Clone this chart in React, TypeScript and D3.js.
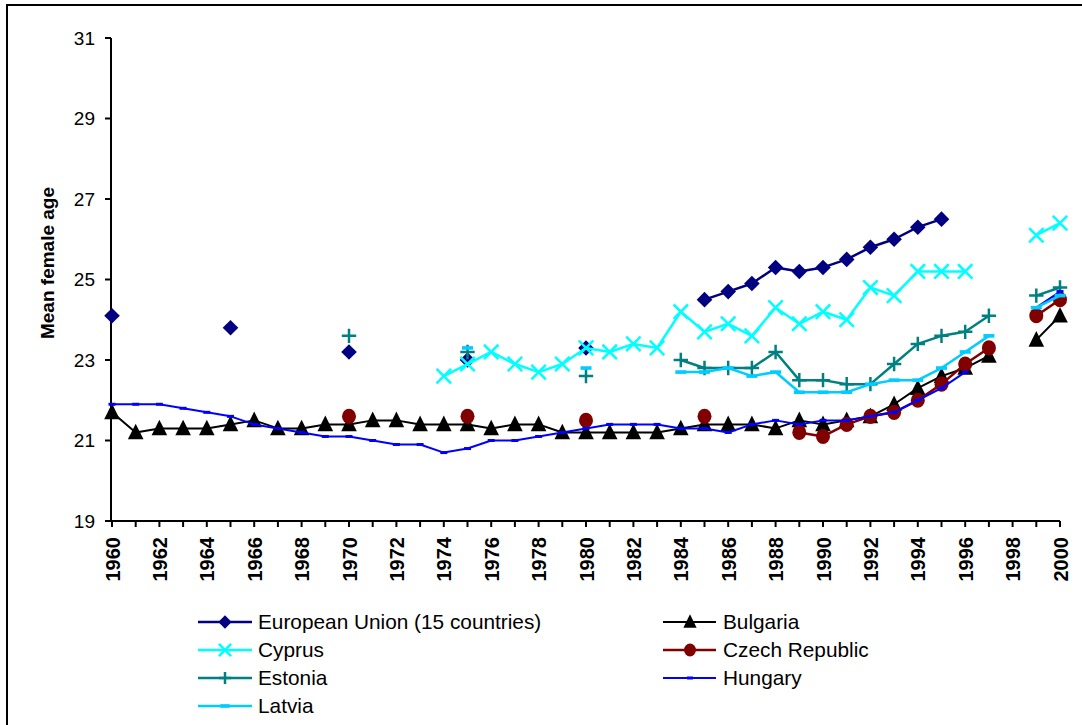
import React from "react";
import * as d3 from "d3";

const years: number[] = [
  1960, 1961, 1962, 1963, 1964, 1965, 1966, 1967, 1968, 1969,
  1970, 1971, 1972, 1973, 1974, 1975, 1976, 1977, 1978, 1979,
  1980, 1981, 1982, 1983, 1984, 1985, 1986, 1987, 1988, 1989,
  1990, 1991, 1992, 1993, 1994, 1995, 1996, 1997, 1998, 1999,
  2000,
];

const euro15 = [
  24.1, null, null, null, null, 23.8, null, null, null, null,
  23.2, null, null, null, null, 23.0, null, null, null, null,
  23.3, null, null, null, null, 24.5, 24.7, 24.9, 25.3, 25.2,
  25.3, 25.5, 25.8, 26.0, 26.3, 26.5, null, null, null, null,
  null,
];

const bulgaria = [
  21.7, 21.2, 21.3, 21.3, 21.3, 21.4, 21.5, 21.3, 21.3, 21.4,
  21.4, 21.5, 21.5, 21.4, 21.4, 21.4, 21.3, 21.4, 21.4, 21.2,
  21.2, 21.2, 21.2, 21.2, 21.3, 21.4, 21.4, 21.4, 21.3, 21.5,
  21.4, 21.5, 21.6, 21.9, 22.3, 22.6, 22.8, 23.1, null, 23.5,
  24.1,
];

const cyprus = [
  null, null, null, null, null, null, null, null, null, null,
  null, null, null, null, 22.6, 22.9, 23.2, 22.9, 22.7, 22.9,
  23.3, 23.2, 23.4, 23.3, 24.2, 23.7, 23.9, 23.6, 24.3, 23.9,
  24.2, 24.0, 24.8, 24.6, 25.2, 25.2, 25.2, null, null, 26.1,
  26.4,
];

const czech = [
  null, null, null, null, null, null, null, null, null, null,
  21.6, null, null, null, null, 21.6, null, null, null, null,
  21.5, null, null, null, null, 21.6, null, null, null, 21.2,
  21.1, 21.4, 21.6, 21.7, 22.0, 22.4, 22.9, 23.3, null, 24.1,
  24.5,
];

const estonia = [
  null, null, null, null, null, null, null, null, null, null,
  23.6, null, null, null, null, 23.2, null, null, null, null,
  22.6, null, null, null, 23.0, 22.8, 22.8, 22.8, 23.2, 22.5,
  22.5, 22.4, 22.4, 22.9, 23.4, 23.6, 23.7, 24.1, null, 24.6,
  24.8,
];

const hungary = [
  21.9, 21.9, 21.9, 21.8, 21.7, 21.6, 21.4, 21.3, 21.2, 21.1,
  21.1, 21.0, 20.9, 20.9, 20.7, 20.8, 21.0, 21.0, 21.1, 21.2,
  21.3, 21.4, 21.4, 21.4, 21.3, 21.3, 21.2, 21.4, 21.5, 21.4,
  21.5, 21.5, 21.6, 21.7, 22.0, 22.3, 22.7, null, null, 24.3,
  24.7,
];

const latvia = [
  null, null, null, null, null, null, null, null, null, null,
  null, null, null, null, null, 23.3, null, null, null, null,
  22.8, null, null, null, 22.7, 22.7, 22.8, 22.6, 22.7, 22.2,
  22.2, 22.2, 22.4, 22.5, 22.5, 22.8, 23.2, 23.6, null, 24.3,
  24.6,
];

const yTicks = [19, 21, 23, 25, 27, 29, 31];
const xLabelYears = years.filter((y) => (y - 1960) % 2 === 0);

type Marker = "diamond" | "triangle" | "circle" | "x" | "plus" | "dashS" | "dashL";

const series: { name: string; values: (number | null)[]; color: string; width: number; marker: Marker }[] = [
  { name: "European Union (15 countries)", values: euro15, color: "#000080", width: 2.5, marker: "diamond" },
  { name: "Bulgaria", values: bulgaria, color: "#000000", width: 2, marker: "triangle" },
  { name: "Cyprus", values: cyprus, color: "#00FFFF", width: 2.5, marker: "x" },
  { name: "Czech Republic", values: czech, color: "#800000", width: 2.5, marker: "circle" },
  { name: "Estonia", values: estonia, color: "#008080", width: 2.5, marker: "plus" },
  { name: "Hungary", values: hungary, color: "#0000FF", width: 2, marker: "dashS" },
  { name: "Latvia", values: latvia, color: "#00CCFF", width: 2.5, marker: "dashL" },
];

const legendLeft = ["European Union (15 countries)", "Cyprus", "Estonia", "Latvia"];
const legendRight = ["Bulgaria", "Czech Republic", "Hungary"];

const FONT = "'Liberation Sans', Arial, sans-serif";

function MarkerShape({ type, cx, cy, color, s = 1 }: { type: Marker; cx: number; cy: number; color: string; s?: number }) {
  switch (type) {
    case "diamond": {
      const r = 7.8 * s;
      return <path d={`M${cx},${cy - r}L${cx + r},${cy}L${cx},${cy + r}L${cx - r},${cy}Z`} fill={color} />;
    }
    case "triangle": {
      const h = 7.8 * s;
      return <path d={`M${cx},${cy - h - 1}L${cx + h},${cy + h - 1}L${cx - h},${cy + h - 1}Z`} fill={color} />;
    }
    case "circle":
      return <ellipse cx={cx} cy={cy} rx={7 * s} ry={7.6 * s} fill={color} />;
    case "x": {
      const r = 7.2 * s;
      return (
        <path d={`M${cx - r},${cy - r}L${cx + r},${cy + r}M${cx - r},${cy + r}L${cx + r},${cy - r}`} stroke={color} strokeWidth={2.5} fill="none" />
      );
    }
    case "plus": {
      const r = 7.2 * s;
      return <path d={`M${cx - r},${cy}L${cx + r},${cy}M${cx},${cy - r}L${cx},${cy + r}`} stroke={color} strokeWidth={2.5} fill="none" />;
    }
    case "dashS":
      return <rect x={cx - 3.5 * s} y={cy - 1.5} width={7 * s} height={3} fill={color} />;
    case "dashL":
      return <rect x={cx - 5.5 * s} y={cy - 1.8} width={11 * s} height={3.6} fill={color} />;
  }
  return null;
}

export default function App() {
  const W = 1082;
  const H = 725;
  const x = d3.scaleLinear().domain([1960, 2000]).range([112, 1060]);
  const y = d3.scaleLinear().domain([19, 31]).range([521, 38]);

  const lineGen = d3
    .line<number | null>()
    .defined((d) => d != null)
    .x((_, i) => x(years[i]))
    .y((d) => y(d as number));

  return (
    <svg width={W} height={H} style={{ position: "absolute", left: 0, top: 0, background: "#fff" }} fontFamily={FONT}>
      <rect x={0} y={0} width={W} height={H} fill="#fff" />
      {/* outer frame */}
      <path d={`M7,${H}L7,5L${W},5`} stroke="#000" strokeWidth={2} fill="none" />

      {/* y axis */}
      <line x1={111} y1={y(31)} x2={111} y2={y(19)} stroke="#000" strokeWidth={2} />
      {yTicks.map((t) => (
        <g key={t}>
          <line x1={105} x2={111} y1={y(t)} y2={y(t)} stroke="#000" strokeWidth={2} />
          <text x={95} y={y(t)} dy="0.36em" textAnchor="end" fontSize={19} fill="#000">
            {t}
          </text>
        </g>
      ))}
      <text transform={`translate(54,263) rotate(-90)`} textAnchor="middle" fontSize={19} fontWeight="bold" fill="#000">
        Mean female age
      </text>

      {/* x axis */}
      <line x1={111} x2={x(2000)} y1={y(19)} y2={y(19)} stroke="#000" strokeWidth={2} />
      {years.map((yr) => (
        <line key={yr} x1={x(yr)} x2={x(yr)} y1={y(19)} y2={y(19) + 6} stroke="#000" strokeWidth={2} />
      ))}
      {xLabelYears.map((yr) => (
        <text key={yr} transform={`translate(${x(yr) + 7.5},537) rotate(-90)`} textAnchor="end" fontSize={20} fontWeight="bold" fill="#000">
          {yr}
        </text>
      ))}

      {/* series */}
      {series.map((s) => (
        <g key={s.name}>
          <path d={lineGen(s.values) || ""} stroke={s.color} strokeWidth={s.width} fill="none" strokeLinejoin="round" />
          {s.values.map((v, i) =>
            v == null ? null : <MarkerShape key={i} type={s.marker} cx={x(years[i])} cy={y(v)} color={s.color} />
          )}
        </g>
      ))}

      {/* legend */}
      {legendLeft.map((name, i) => {
        const s = series.find((d) => d.name === name)!;
        const cy = 622 + i * 28;
        return (
          <g key={name}>
            <line x1={198} x2={252} y1={cy} y2={cy} stroke={s.color} strokeWidth={s.width} />
            <MarkerShape type={s.marker} cx={225} cy={cy} color={s.color} s={0.85} />
            <text x={258} y={cy} dy="0.36em" fontSize={20.8} fill="#000">
              {name}
            </text>
          </g>
        );
      })}
      {legendRight.map((name, i) => {
        const s = series.find((d) => d.name === name)!;
        const cy = 622 + i * 28;
        return (
          <g key={name}>
            <line x1={663} x2={716} y1={cy} y2={cy} stroke={s.color} strokeWidth={s.width} />
            <MarkerShape type={s.marker} cx={690} cy={cy} color={s.color} s={0.85} />
            <text x={723} y={cy} dy="0.36em" fontSize={20.8} fill="#000">
              {name}
            </text>
          </g>
        );
      })}
    </svg>
  );
}
